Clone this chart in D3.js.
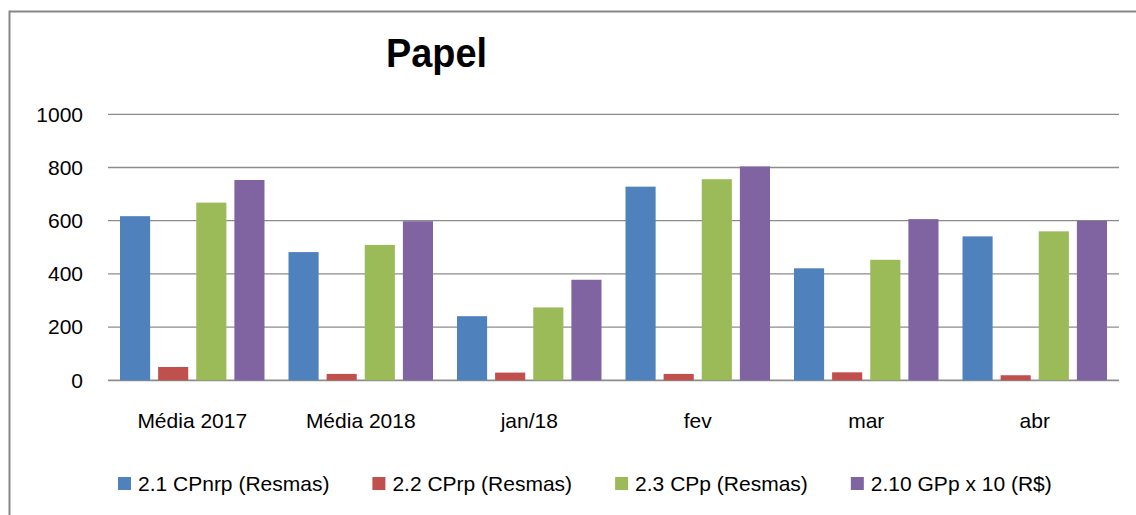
<!DOCTYPE html>
<html>
<head>
<meta charset="utf-8">
<script src="https://cdn.jsdelivr.net/npm/d3@7"></script>
<style>
  body { margin: 0; background: #fff; }
  text { font-family: "Liberation Sans", Arial, sans-serif; fill: #000; }
</style>
</head>
<body>
<svg id="chart" width="1136" height="515"></svg>
<script>
// data
const categories = ["Média 2017", "Média 2018", "jan/18", "fev", "mar", "abr"];
const seriesNames = ["2.1 CPnrp (Resmas)", "2.2 CPrp (Resmas)", "2.3 CPp (Resmas)", "2.10 GPp x 10 (R$)"];
const cpnrp = [617, 482, 241, 728, 421, 541];
const cprp = [50, 24, 29, 24, 30, 19];
const cpp = [668, 509, 274, 756, 453, 560];
const gpp = [753, 598, 378, 804, 606, 600];
const yTicks = [0, 200, 400, 600, 800, 1000];
const colors = ["#4F81BD", "#C0504D", "#9BBB59", "#8064A2"];

const seriesValues = [cpnrp, cprp, cpp, gpp];

const svg = d3.select("#chart");
const margin = {top: 114.3, left: 108, right: 17, bottom: 134.7};
const W = 1136, H = 515;

// outer frame (runs off the right/bottom edge like the reference)
svg.append("rect")
    .attr("x", 9.5).attr("y", 11.5)
    .attr("width", 1200).attr("height", 600)
    .attr("fill", "none")
    .attr("stroke", "#868686")
    .attr("stroke-width", 2);

// title
svg.append("text")
    .attr("x", 436.5).attr("y", 67)
    .attr("text-anchor", "middle")
    .attr("font-size", "40px")
    .attr("font-weight", "bold")
    .attr("textLength", 101)
    .attr("lengthAdjust", "spacingAndGlyphs")
    .text("Papel");

// scales
const x0 = d3.scaleBand()
    .domain(categories)
    .range([margin.left, W - margin.right])
    .padding(0);

const x1 = d3.scaleBand()
    .domain(d3.range(seriesNames.length))
    .range([12, x0.bandwidth() - 12])
    .paddingInner(0.21)
    .paddingOuter(0);

const y = d3.scaleLinear()
    .domain([0, 1000])
    .range([H - margin.bottom, margin.top]);

// gridlines
svg.append("g")
    .selectAll("line")
    .data(yTicks)
    .join("line")
    .attr("x1", margin.left)
    .attr("x2", W - margin.right)
    .attr("y1", d => y(d))
    .attr("y2", d => y(d))
    .attr("stroke", "#8c8c8c")
    .attr("stroke-width", d => d === 0 ? 1.8 : 1.3);

// y labels
svg.append("g")
    .selectAll("text")
    .data(yTicks)
    .join("text")
    .attr("x", 83)
    .attr("y", d => y(d))
    .attr("dy", "0.35em")
    .attr("text-anchor", "end")
    .attr("font-size", "21px")
    .text(d => d);

// bars
const rows = categories.map((c, i) => ({cat: c, vals: seriesValues.map(s => s[i])}));

const groups = svg.append("g")
    .selectAll("g")
    .data(rows)
    .join("g")
    .attr("transform", d => `translate(${x0(d.cat)},0)`);

groups.selectAll("rect")
    .data(d => d.vals.map((v, k) => ({k, v})))
    .join("rect")
    .attr("x", d => x1(d.k))
    .attr("width", x1.bandwidth())
    .attr("y", d => y(d.v))
    .attr("height", d => y(0) - y(d.v))
    .attr("fill", d => colors[d.k]);

// category labels
svg.append("g")
    .selectAll("text")
    .data(categories)
    .join("text")
    .attr("x", d => x0(d) + x0.bandwidth() / 2)
    .attr("y", 428)
    .attr("text-anchor", "middle")
    .attr("font-size", "21px")
    .text(d => d);

// legend
const legend = svg.append("g").attr("class", "legend");
let lx = 118;
seriesNames.forEach((name, k) => {
    legend.append("rect")
        .attr("x", lx).attr("y", 477)
        .attr("width", 13).attr("height", 13)
        .attr("fill", colors[k]);
    const t = legend.append("text")
        .attr("x", lx + 20).attr("y", 491)
        .attr("font-size", "21px")
        .text(name);
    lx += 20 + t.node().getComputedTextLength() + 43;
});
</script>
</body>
</html>
